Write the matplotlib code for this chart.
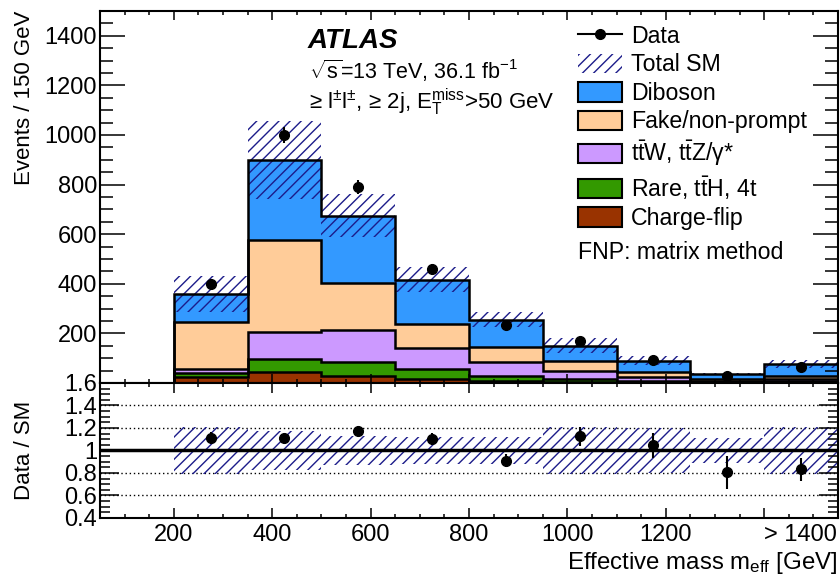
import numpy as np
import matplotlib.pyplot as plt
from matplotlib.patches import Patch
from matplotlib.lines import Line2D
from matplotlib.ticker import MultipleLocator, FixedLocator

plt.rcParams['font.family'] = ['Liberation Sans', 'DejaVu Sans']
plt.rcParams['mathtext.fontset'] = 'custom'
plt.rcParams['mathtext.rm'] = 'Liberation Sans'
plt.rcParams['mathtext.it'] = 'Liberation Sans:italic'
plt.rcParams['mathtext.bf'] = 'Liberation Sans:bold'
plt.rcParams['hatch.linewidth'] = 1.0

# m_eff bins [GeV], last bin is the overflow (> 1400)
bin_edges = [200, 350, 500, 650, 800, 950, 1100, 1250, 1400, 1550]

# background contributions per bin (stacked bottom -> top)
charge_flip = [24, 44, 28, 16, 7, 5, 3, 1, 3]
rare = [15, 54, 57, 40, 20, 11, 7, 3, 5]
ttv = [18, 107, 127, 85, 56, 31, 14, 5, 8]
fake = [187, 373, 191, 98, 64, 40, 20, 7, 13]
diboson = [115, 322, 271, 177, 108, 64, 46, 20, 49]
sm_unc = [74, 158, 87, 50, 31, 31, 18, 4, 16]

data = [399, 1000, 792, 459, 232, 170, 94, 29, 65]

xtick_vals = [200, 400, 600, 800, 1000, 1200, 1400]
xtick_labels = ['200', '400', '600', '800', '1000', '1200', '> 1400']
ytick_vals = [200, 400, 600, 800, 1000, 1200, 1400]
rtick_vals = [0.4, 0.6, 0.8, 1.0, 1.2, 1.4, 1.6]
rtick_labels = ['0.4', '0.6', '0.8', '1', '1.2', '1.4', '1.6']

layers = [
    (charge_flip, '#993300', 'Charge-flip'),
    (rare, '#339900', r'Rare, t$\bar{\mathrm{t}}$H, 4t'),
    (ttv, '#cc99ff', r't$\bar{\mathrm{t}}$W, t$\bar{\mathrm{t}}$Z/γ*'),
    (fake, '#ffcc99', 'Fake/non-prompt'),
    (diboson, '#3399ff', 'Diboson'),
]
hatch_col = '#1c1c8a'
tick_fs = 17

edges = np.array(bin_edges, dtype=float)
centers = 0.5 * (edges[1:] + edges[:-1])
data = np.array(data, dtype=float)
data_err = np.sqrt(data)
unc = np.array(sm_unc, dtype=float)

fig = plt.figure(figsize=(8.4, 5.76), dpi=100)
ax = fig.add_axes([0.1190, 0.3351, 0.8786, 0.6458])
rax = fig.add_axes([0.1190, 0.1007, 0.8786, 0.2344], sharex=ax)

# stacked histogram
bottom = np.zeros(len(data))
tops = []
for vals, color, _ in layers:
    top = bottom + np.array(vals, dtype=float)
    ax.stairs(top, edges, baseline=bottom, fill=True, color=color, zorder=1)
    tops.append(top)
    bottom = top
total = bottom

ax.stairs(total + unc, edges, baseline=total - unc, fill=True,
          facecolor='none', edgecolor=hatch_col, hatch='///', linewidth=0, zorder=2)
for top in tops:
    ax.stairs(top, edges, baseline=0, color='k', lw=1.8, zorder=3)

ax.errorbar(centers, data, yerr=data_err, fmt='o', color='k', ms=7,
            elinewidth=1.5, capsize=0, zorder=4)

ax.set_xlim(50, 1550)
ax.set_ylim(0, 1500)
ax.yaxis.set_major_locator(FixedLocator(ytick_vals))
ax.yaxis.set_minor_locator(MultipleLocator(50))
ax.xaxis.set_major_locator(FixedLocator(xtick_vals))
ax.xaxis.set_minor_locator(MultipleLocator(50))
ax.tick_params(which='both', direction='in', top=True, right=True, width=1.1,
               labelsize=tick_fs, labelbottom=False, pad=2)
ax.tick_params(axis='y', which='major', length=18)
ax.tick_params(axis='y', which='minor', length=9.5)
ax.tick_params(axis='x', which='major', length=6.5)
ax.tick_params(axis='x', which='minor', length=3)
ax.set_ylabel('Events / 150 GeV', fontsize=16, loc='top')
ax.yaxis.set_label_coords(-0.088, 1.0)

# legend
handles = [Line2D([], [], color='k', marker='o', ms=7, lw=1.5),
           Patch(facecolor='none', edgecolor=hatch_col, hatch='///', lw=0)]
labels = ['Data', 'Total SM']
for vals, color, name in reversed(layers):
    handles.append(Patch(facecolor=color, edgecolor='k', lw=1.5))
    labels.append(name)
ax.legend(handles, labels, loc='upper left', bbox_to_anchor=(0.6477, 0.963),
          frameon=False, fontsize=16.7, handlelength=1.9, handleheight=0.9,
          handletextpad=0.4, labelspacing=0.24, borderpad=0, borderaxespad=0)
ax.text(0.6477, 0.350, 'FNP: matrix method', transform=ax.transAxes,
        fontsize=16.7, va='center')

ax.text(0.281, 0.9005, 'ATLAS', transform=ax.transAxes, fontsize=20,
        fontweight='bold', fontstyle='italic')
ax.text(0.283, 0.816, r'$\sqrt{\mathrm{s}}$=13 TeV, 36.1 fb$^{\mathrm{-1}}$',
        transform=ax.transAxes, fontsize=15.5)
ax.text(0.283, 0.735,
        r'≥ $\mathrm{l}^{\pm}\mathrm{l}^{\pm}$, ≥ 2j, $\mathrm{E}_{\mathrm{T}}^{\mathrm{miss}}$>50 GeV',
        transform=ax.transAxes, fontsize=16)

# ratio panel
rel = unc / total
ratio = data / total
ratio_err = data_err / total
rax.stairs(1 + rel, edges, baseline=1 - rel, fill=True, facecolor='none',
           edgecolor=hatch_col, hatch='///', linewidth=0, zorder=1)
for v in [0.6, 0.8, 1.2, 1.4]:
    rax.axhline(v, color='k', lw=1, ls=(0, (1, 2)), zorder=0)
rax.axhline(1, color='k', lw=2.5, zorder=2)
rax.errorbar(centers, ratio, yerr=ratio_err, fmt='o', color='k', ms=7,
             elinewidth=1.5, capsize=0, zorder=3)

rax.set_ylim(0.4, 1.6)
rax.yaxis.set_major_locator(FixedLocator(rtick_vals))
rax.set_yticklabels(rtick_labels)
rax.yaxis.set_minor_locator(MultipleLocator(0.05))
rax.set_xticks(xtick_vals)
rax.set_xticklabels(xtick_labels)
rax.get_xticklabels()[-1].set_horizontalalignment('left')
rax.tick_params(which='both', direction='in', top=True, right=True, width=1.1,
                labelsize=tick_fs)
rax.tick_params(axis='y', which='major', length=13.5, pad=2)
rax.tick_params(axis='y', which='minor', length=7)
rax.tick_params(axis='x', which='major', length=7, pad=4)
rax.tick_params(axis='x', which='minor', length=3)
rax.set_ylabel('Data / SM', fontsize=16)
rax.yaxis.set_label_coords(-0.088, 0.5)
rax.set_xlabel(r'Effective mass m$_{\mathrm{eff}}$ [GeV]', fontsize=17.3, loc='right')
rax.xaxis.set_label_coords(1.0, -0.235)

for a in (ax, rax):
    for s in a.spines.values():
        s.set_linewidth(1.5)

fig.savefig('out.png', dpi=100)
